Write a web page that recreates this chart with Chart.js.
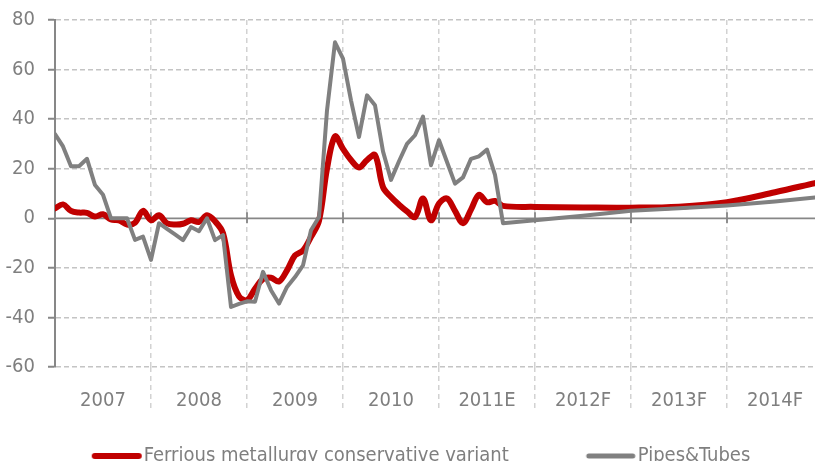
<!DOCTYPE html>
<html>
<head>
<meta charset="utf-8">
<script src="https://cdn.jsdelivr.net/npm/chart.js@4/dist/chart.umd.min.js"></script>
<style>
  html, body { margin: 0; padding: 0; background: #ffffff; overflow: hidden; }
  #wrap { width: 815px; height: 482px; position: relative; }
</style>
</head>
<body>
<div id="wrap"><canvas id="c"></canvas></div>
<script>
// ---------- data (month index: 0 = Jan 2007) ----------
const yearLabels      = ['2007', '2008', '2009', '2010', '2011E', '2012F', '2013F', '2014F'];
const yearLabelMonths = [6, 18, 30, 42, 54, 66, 78, 90];
const yearBoundaries  = [12, 24, 36, 48, 60, 72, 84];
const yTicks          = [-60, -40, -20, 0, 20, 40, 60, 80];

const seriesNames = ['Ferrious metallurgy conservative variant', 'Pipes&Tubes'];

// monthly actuals, Jan 2007 .. Aug 2011
const ferrousActual = [4, 5.6, 3, 2.3, 2.2, 0.7, 1.6, -0.5, -0.8, -2.5, -1.8, 3,
  -0.8, 1.2, -2, -2.5, -2.2, -0.8, -1.5, 1.2, -1.2, -6, -23, -31.5,
  -33, -28.5, -24.5, -24, -25.5, -21, -15, -13, -7.5, -1, 20, 33,
  28, 23.5, 20.5, 23.5, 25.5, 12.6, 8.6, 5.5, 2.8, 0.5, 8, -0.8,
  6, 8, 3, -2, 3.5, 9.5, 6.5, 7];
const pipesActual = [34, 29, 21, 21, 24, 13.4, 9.5, 0, 0, 0, -8.7, -7.4,
  -16.8, -2, -4.3, -6.5, -8.8, -3.5, -5.2, 0, -8.8, -6.8, -35.8, -34.5,
  -33.5, -33.7, -21.6, -29, -34.4, -27.7, -23.7, -19, -4.8, 0.5, 43.5, 71,
  64.4, 47.6, 32.8, 49.6, 45.6, 27, 15.5, 23, 30, 33.5, 41, 21.4,
  31.5, 22.7, 14, 16.5, 24, 25, 27.7, 17.5];

// forecast
const forecastMonths  = [56, 60, 66, 72, 78, 84, 90, 95];
const ferrousForecast = [5.0, 4.6, 4.4, 4.3, 4.7, 6.5, 10.5, 14.2];
const pipesForecast   = [-2.0, -0.8, 1.0, 3.0, 4.0, 5.2, 6.8, 8.4];

// ---------- helpers ----------
function toPoints(actual, fMonths, fValues) {
  const pts = actual.map((v, i) => ({ x: i, y: v }));
  fMonths.forEach((m, k) => pts.push({ x: m, y: fValues[k] }));
  return pts;
}
const FONT = "'Liberation Sans Narrow', 'DejaVu Sans Condensed', 'Arial Narrow', sans-serif";
const FSIZE = 20;
const TEXT = '#7f7f7f';
const RED = '#c00000';
const GREY = '#808080';

function swatch(color, thick) {
  const c = document.createElement('canvas');
  c.width = 56; c.height = 10;
  const g = c.getContext('2d');
  g.strokeStyle = color; g.lineWidth = thick; g.lineCap = 'round';
  g.beginPath(); g.moveTo(6, 5); g.lineTo(50, 5); g.stroke();
  return c;
}
const swatches = [swatch(RED, 6), swatch(GREY, 5)];

function noPad(scale) {
  scale.paddingTop = 0; scale.paddingBottom = 0;
  scale.paddingLeft = 0; scale.paddingRight = 0;
}

const zeroAxisPlugin = {
  id: 'zeroAxis',
  afterLayout(chart) {
    // lift the legend row slightly (it sits close to the bottom edge in the original)
    if (chart.legend) { chart.legend.top -= 6; chart.legend.bottom -= 6; }
  },
  beforeDatasetsDraw(chart) {
    const { ctx, chartArea, scales } = chart;
    const y0 = scales.y.getPixelForValue(0);
    ctx.save();
    ctx.strokeStyle = '#878787';
    ctx.lineWidth = 1.8;
    ctx.beginPath();
    ctx.moveTo(chartArea.left, y0);
    ctx.lineTo(chartArea.right, y0);
    yearBoundaries.forEach(m => {
      const px = scales.x.getPixelForValue(m);
      ctx.moveTo(px, y0 - 6);
      ctx.lineTo(px, y0 + 5);
    });
    ctx.stroke();
    ctx.restore();
  }
};

new Chart(document.getElementById('c'), {
  type: 'line',
  data: {
    datasets: [
      {
        label: seriesNames[0],
        data: toPoints(ferrousActual, forecastMonths, ferrousForecast),
        borderColor: RED, backgroundColor: RED,
        borderWidth: 6, tension: 0.35, pointRadius: 0,
        borderJoinStyle: 'round', borderCapStyle: 'round',
        order: 1
      },
      {
        label: seriesNames[1],
        data: toPoints(pipesActual, forecastMonths, pipesForecast),
        borderColor: GREY, backgroundColor: GREY,
        borderWidth: 4, tension: 0, pointRadius: 0,
        borderJoinStyle: 'round', borderCapStyle: 'round',
        order: 0
      }
    ]
  },
  options: {
    responsive: true,
    maintainAspectRatio: false,
    animation: false,
    layout: { padding: { top: 20, right: -30, left: 5, bottom: 0 } },
    plugins: {
      tooltip: { enabled: false },
      legend: {
        position: 'bottom',
        labels: {
          usePointStyle: true,
          pointStyleWidth: 34,
          padding: 85,
          color: TEXT,
          font: { family: FONT, size: FSIZE },
          generateLabels(chart) {
            return chart.data.datasets.map((ds, i) => ({
              text: ds.label,
              fillStyle: ds.borderColor,
              strokeStyle: ds.borderColor,
              lineWidth: 0,
              pointStyle: swatches[i],
              hidden: false,
              datasetIndex: i,
              fontColor: TEXT
            }));
          }
        }
      }
    },
    scales: {
      x: {
        type: 'linear',
        min: 0,
        max: 95,
        afterFit(scale) { scale.height = 0; noPad(scale); },
        afterBuildTicks(scale) {
          scale.ticks = yearLabelMonths.concat(yearBoundaries)
            .sort((a, b) => a - b)
            .map(v => ({ value: v }));
        },
        border: { display: false, dash: [5, 4] },
        grid: {
          color: ctx => yearBoundaries.includes(ctx.tick && ctx.tick.value) ? '#d2d2d2' : 'rgba(0,0,0,0)',
          tickColor: ctx => yearBoundaries.includes(ctx.tick && ctx.tick.value) ? '#d2d2d2' : 'rgba(0,0,0,0)',
          lineWidth: 1.5,
          tickWidth: 1.5,
          tickBorderDash: [5, 4],
          tickLength: 43,
          drawTicks: true
        },
        ticks: {
          autoSkip: false,
          maxRotation: 0,
          mirror: true,
          padding: -46,
          color: TEXT,
          font: { family: FONT, size: FSIZE },
          callback: v => {
            const k = yearLabelMonths.indexOf(v);
            return k >= 0 ? yearLabels[k] : '';
          }
        }
      },
      y: {
        min: -60,
        max: 80,
        afterFit(scale) { scale.width = 50; noPad(scale); },
        afterBuildTicks(scale) { scale.ticks = yTicks.map(v => ({ value: v })); },
        border: { display: true, color: '#878787', width: 2, dash: [5, 3] },
        grid: {
          color: ctx => (ctx.tick && ctx.tick.value === 0) ? 'rgba(0,0,0,0)' : '#c4c4c4',
          lineWidth: 1.5,
          tickColor: '#878787',
          tickWidth: 2,
          tickLength: 7,
          tickBorderDash: []
        },
        ticks: {
          padding: 13,
          color: TEXT,
          font: { family: FONT, size: FSIZE }
        }
      }
    }
  },
  plugins: [zeroAxisPlugin]
});
</script>
</body>
</html>
